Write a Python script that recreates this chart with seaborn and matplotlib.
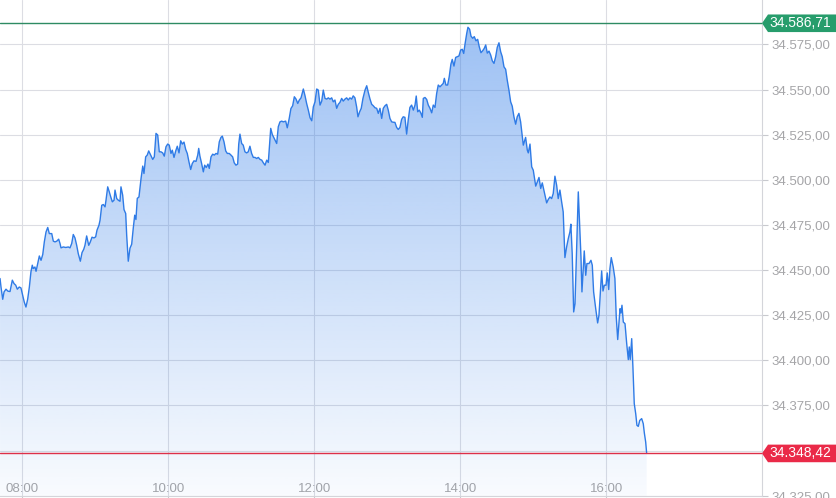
import numpy as np
import pandas as pd
import matplotlib
matplotlib.use("Agg")
import matplotlib.pyplot as plt
import matplotlib.transforms as mtransforms
from matplotlib.patches import Polygon
import seaborn as sns

# intraday index values, minutes after 08:00
minutes = [
    -18.3, -17.5, -16.1, -15.0, -13.4, -11.8, -10.1, -8.2, -6.8, -5.4,
    -4.1, -2.5, -1.1, 0.3, 1.6, 3.0, 4.4, 5.8, 7.1, 8.2,
    9.0, 10.4, 11.3, 12.7, 14.0, 15.4, 16.8, 18.1, 19.5, 20.9,
    22.2, 24.2, 25.5, 26.9, 28.3, 29.9, 31.0, 31.8, 33.7, 35.7,
    37.8, 39.2, 40.6, 41.9, 43.3, 44.7, 46.0, 47.7, 49.1, 50.5,
    51.5, 52.9, 54.6, 55.9, 57.3, 58.9, 60.3, 61.4, 63.0, 63.9,
    65.3, 66.6, 68.0, 68.8, 70.2, 71.5, 72.7, 74.0, 75.4, 76.2,
    77.6, 78.9, 80.3, 81.1, 82.5, 83.6, 85.0, 85.8, 87.1, 88.5,
    89.9, 91.2, 92.4, 93.4, 94.5, 95.9, 97.6, 99.0, 100.0, 101.4,
    102.7, 103.9, 105.5, 107.2, 108.5, 109.9, 111.3, 112.6, 114.0, 115.4,
    116.7, 118.1, 119.5, 120.8, 122.2, 123.3, 124.7, 126.1, 127.4, 128.8,
    130.2, 131.5, 132.9, 134.3, 135.6, 137.0, 138.4, 139.7, 141.1, 142.8,
    144.2, 145.0, 146.0, 147.4, 148.8, 149.9, 151.2, 152.6, 153.7, 155.1,
    156.5, 157.8, 159.2, 160.6, 161.9, 163.3, 164.4, 165.8, 167.2, 168.5,
    170.1, 171.5, 172.9, 174.2, 175.6, 177.0, 177.9, 178.9, 180.3, 181.6,
    183.0, 184.4, 185.7, 187.1, 188.5, 189.9, 191.3, 192.6, 194.0, 195.4,
    196.8, 198.1, 199.5, 200.9, 202.2, 204.2, 205.5, 207.1, 209.1, 210.4,
    211.8, 213.2, 214.5, 216.5, 217.8, 219.4, 220.8, 222.2, 223.6, 225.0,
    226.4, 227.7, 229.1, 231.0, 232.4, 233.7, 235.1, 236.5, 237.9, 239.2,
    240.6, 242.0, 243.3, 244.7, 246.1, 247.4, 248.8, 250.2, 251.5, 252.9,
    254.3, 255.6, 257.0, 258.4, 259.7, 261.1, 262.5, 263.8, 265.2, 266.6,
    267.9, 269.3, 270.7, 272.0, 273.4, 274.8, 275.9, 277.3, 278.6, 280.0,
    281.7, 283.1, 284.4, 285.8, 287.2, 288.5, 289.9, 291.3, 292.6, 294.0,
    295.4, 296.7, 298.1, 299.5, 300.8, 302.2, 303.6, 304.9, 306.3, 307.7,
    309.0, 310.4, 311.8, 313.1, 314.5, 315.9, 317.2, 318.6, 320.0, 321.4,
    322.8, 323.8, 325.0, 326.3, 327.7, 328.8, 329.6, 331.0, 332.4, 333.7,
    335.1, 336.5, 337.8, 339.2, 340.6, 341.9, 343.3, 344.7, 346.0, 346.9,
    348.2, 349.6, 350.9, 352.3, 353.4, 354.8, 356.2, 357.5, 358.9, 360.3,
    361.6, 362.8, 363.9, 365.3, 366.3, 367.7, 368.8, 370.2, 371.5, 372.9,
    374.3, 375.6, 377.0, 378.4, 379.7, 380.9, 382.2, 383.6, 385.0, 386.3,
    387.7, 389.1, 390.4, 391.8, 393.2, 394.5, 395.9, 397.3, 398.6, 400.0,
    401.4, 402.7, 404.1, 405.5, 406.8, 408.2, 409.6, 410.9, 411.8, 413.7,
    415.1, 415.9, 417.3, 418.7, 420.0, 422.0, 423.3, 424.7, 426.1, 427.4,
    429.0, 431.0, 432.3, 433.7, 435.1, 436.4, 437.8, 439.2, 440.5, 441.9,
    443.3, 444.6, 446.0, 447.4, 448.8, 450.1, 450.9, 452.0, 453.2, 454.3,
    455.7, 457.0, 458.4, 459.2, 460.0, 461.1, 461.9, 463.1, 464.1, 465.8,
    467.4, 468.5, 469.6, 471.3, 472.9, 474.0, 475.1, 476.2, 477.3, 478.4,
    479.8, 480.8, 482.0, 483.0, 484.1, 485.7, 487.1, 488.2, 489.4, 490.4,
    491.3, 492.1, 492.9, 494.0, 495.4, 496.8, 498.1, 498.9, 499.7, 500.9,
    501.9, 503.0, 504.2, 505.2, 506.3, 507.5, 509.1, 510.4, 511.3, 512.4,
    513.2,
]
prices = [
    34445.3, 34440.6, 34433.8, 34437.9, 34439.4, 34438.3, 34438.1, 34444.4, 34442.5, 34441.6,
    34439.4, 34440.6, 34440.1, 34436.0, 34432.3, 34429.5, 34433.8, 34440.6, 34449.0, 34452.7,
    34450.8, 34451.7, 34449.3, 34453.6, 34457.8, 34455.4, 34458.6, 34465.6, 34471.1, 34473.6,
    34470.2, 34470.2, 34466.0, 34465.6, 34466.0, 34467.1, 34464.7, 34462.3, 34462.8, 34462.5,
    34462.8, 34462.3, 34464.7, 34469.7, 34467.8, 34463.7, 34459.1, 34454.9, 34459.7, 34461.5,
    34463.7, 34468.9, 34463.7, 34465.6, 34468.2, 34467.8, 34468.4, 34472.1, 34474.8, 34477.6,
    34485.9, 34486.3, 34485.0, 34488.7, 34496.1, 34493.3, 34490.5, 34487.8, 34488.7, 34494.3,
    34489.6, 34488.7, 34488.1, 34496.1, 34491.5, 34483.5, 34481.3, 34469.3, 34454.9, 34462.1,
    34464.3, 34473.2, 34480.4, 34478.0, 34489.7, 34490.5, 34500.7, 34507.6, 34503.5, 34512.7,
    34513.7, 34516.0, 34513.7, 34511.3, 34512.7, 34525.7, 34524.8, 34515.5, 34515.5, 34514.9,
    34513.1, 34518.3, 34519.8, 34519.2, 34514.6, 34516.4, 34512.4, 34516.0, 34518.6, 34514.9,
    34521.6, 34519.8, 34520.9, 34516.8, 34514.6, 34509.9, 34505.7, 34509.0, 34510.5, 34510.2,
    34513.7, 34517.4, 34513.1, 34509.0, 34504.4, 34508.1, 34506.8, 34508.7, 34506.3, 34512.7,
    34514.2, 34513.7, 34514.6, 34514.2, 34521.0, 34523.5, 34524.2, 34521.0, 34516.0, 34514.6,
    34514.6, 34513.7, 34512.7, 34509.4, 34508.1, 34508.7, 34519.8, 34525.3, 34520.1, 34519.2,
    34515.5, 34514.9, 34515.5, 34518.6, 34514.6, 34512.4, 34512.4, 34511.8, 34512.4, 34511.3,
    34510.9, 34509.4, 34508.1, 34510.9, 34509.6, 34528.5, 34525.1, 34522.9, 34520.1, 34529.4,
    34532.1, 34532.5, 34532.1, 34532.5, 34528.8, 34534.0, 34539.5, 34541.0, 34546.0, 34544.7,
    34542.3, 34544.2, 34545.4, 34550.3, 34546.5, 34542.3, 34538.6, 34534.4, 34532.7, 34540.4,
    34543.2, 34550.3, 34549.7, 34541.4, 34543.6, 34549.7, 34545.1, 34544.7, 34545.4, 34544.7,
    34545.4, 34543.2, 34544.2, 34539.6, 34541.8, 34542.9, 34545.1, 34543.6, 34544.7, 34545.4,
    34544.2, 34545.4, 34544.7, 34546.5, 34545.4, 34540.4, 34534.9, 34537.7, 34539.6, 34545.1,
    34549.7, 34552.1, 34548.4, 34544.7, 34541.8, 34541.0, 34539.9, 34539.6, 34536.8, 34539.6,
    34534.0, 34539.6, 34541.0, 34541.8, 34538.6, 34534.0, 34532.1, 34531.9, 34531.8, 34529.0,
    34527.9, 34529.0, 34533.5, 34534.9, 34534.6, 34525.3, 34533.1, 34540.1, 34541.4, 34538.6,
    34541.4, 34546.4, 34537.7, 34538.6, 34536.8, 34534.6, 34545.1, 34545.6, 34544.5, 34541.4,
    34539.6, 34537.1, 34541.4, 34540.1, 34547.9, 34552.5, 34551.5, 34552.5, 34553.4, 34556.2,
    34552.5, 34552.5, 34557.1, 34564.1, 34566.7, 34563.0, 34567.8, 34568.2, 34568.6, 34571.9,
    34572.3, 34570.0, 34575.2, 34581.1, 34584.5, 34583.4, 34579.6, 34578.4, 34579.3, 34577.0,
    34577.8, 34573.7, 34570.4, 34571.5, 34572.8, 34574.7, 34570.2, 34571.3, 34569.1, 34565.9,
    34564.5, 34568.2, 34573.4, 34575.9, 34570.9, 34568.2, 34562.6, 34561.2, 34555.2, 34549.7,
    34543.2, 34540.8, 34534.9, 34530.8, 34534.9, 34536.8, 34532.1, 34524.7, 34519.2, 34523.5,
    34516.4, 34514.9, 34519.8, 34507.2, 34505.3, 34496.5, 34498.8, 34501.3, 34495.2, 34498.3,
    34493.3, 34487.2, 34489.1, 34490.5, 34489.6, 34492.4, 34502.0, 34497.0, 34489.6, 34494.3,
    34487.8, 34482.2, 34456.9, 34462.8, 34467.5, 34471.1, 34475.4, 34459.1, 34426.8, 34431.4,
    34462.8, 34493.3, 34470.2, 34457.3, 34437.9, 34451.7, 34460.6, 34447.1, 34453.6, 34453.6,
    34455.4, 34452.7, 34437.9, 34428.7, 34420.7, 34425.0, 34437.0, 34449.5, 34438.4, 34441.6,
    34441.6, 34448.4, 34439.2, 34450.8, 34456.9, 34451.7, 34445.3, 34424.0, 34411.5, 34420.3,
    34428.6, 34426.2, 34430.5, 34421.2, 34420.3, 34409.2, 34400.4, 34407.4, 34400.4, 34412.0,
    34396.3, 34376.0, 34370.4, 34364.0, 34363.4, 34366.7, 34367.7, 34364.9, 34359.7, 34354.7,
    34348.42,
]

day_high = 34586.71
last_price = 34348.42
tick_minutes = [0, 120, 240, 360, 480]
tick_labels = ["08:00", "10:00", "12:00", "14:00", "16:00"]
price_ticks = [34325, 34350, 34375, 34400, 34425, 34450, 34475, 34500, 34525, 34550, 34575]


def de_format(v):
    return f"{v:,.2f}".replace(",", "X").replace(".", ",").replace("X", ".")


df = pd.DataFrame({"minute": minutes, "price": prices})

sns.set_theme(style="white")
plt.rcParams["font.family"] = ["Liberation Sans", "DejaVu Sans"]

W, H = 836, 498
fig = plt.figure(figsize=(W / 100, H / 100), dpi=100)
ax = fig.add_axes([0, 2.3 / H, 762 / W, 495.7 / H])

xmin, xmax = -18.33, 608.0
ymin, ymax = 34325, 34599.6

# gradient area under the line
area = ax.fill_between(df["minute"], df["price"], ymin, facecolor="none", lw=0)
alpha = np.linspace(0.03, 0.47, 256)
rgba = np.zeros((256, 1, 4))
rgba[..., 0] = 47 / 255
rgba[..., 1] = 123 / 255
rgba[..., 2] = 232 / 255
rgba[:, 0, 3] = alpha
img = ax.imshow(rgba, extent=[xmin, xmax, ymin, max(prices)], origin="lower",
                aspect="auto", zorder=1, interpolation="bilinear")
img.set_clip_path(area.get_paths()[0], transform=ax.transData)

sns.lineplot(data=df, x="minute", y="price", color="#2f7be6", lw=1.0,
             estimator=None, sort=False, ax=ax, zorder=3)

ax.axhline(day_high, color="#2e8b63", lw=1.0, zorder=4)
ax.axhline(last_price, color="#dd2f48", lw=1.0, zorder=4)

ax.set_xlim(xmin, xmax)
ax.set_ylim(ymin, ymax)
ax.set_xlabel("")
ax.set_ylabel("")

ax.set_xticks(tick_minutes)
ax.set_xticklabels(tick_labels)
ax.set_yticks(price_ticks)
# the 34.350 label sits under the last-price tag
ax.set_yticklabels(["" if abs(p - last_price) < 8 else de_format(p) for p in price_ticks])
ax.yaxis.tick_right()

ax.grid(True, color="#dcdde3", lw=0.8, zorder=0)
ax.set_axisbelow(True)
for side in ["top", "left"]:
    ax.spines[side].set_visible(False)
for side in ["right", "bottom"]:
    ax.spines[side].set_color("#d4d5da")
    ax.spines[side].set_linewidth(0.8)

ax.tick_params(axis="y", right=True, length=4, width=0.8, color="#c8c9ce",
               labelsize=9.5, labelcolor="#a5a5a8", pad=3)
ax.tick_params(axis="x", bottom=True, length=2.5, width=0.8, color="#c8c9ce",
               labelsize=9.5, labelcolor="#a5a5a8", pad=-11.5)

# price tags on the right
trans = mtransforms.blended_transform_factory(fig.transFigure, ax.transData)
half = 8.8 * (ymax - ymin) / 495.7
for level, color in [(day_high, "#279d6c"), (last_price, "#ea2a48")]:
    x0, x1 = 762 / W, 768 / W
    tag = Polygon([(x0, level), (x1, level + half), (1.0, level + half),
                   (1.0, level - half), (x1, level - half)], closed=True,
                  transform=trans, facecolor=color, edgecolor="none", zorder=6)
    fig.add_artist(tag)
    fig.text(800 / W, level, de_format(level), transform=trans, color="white",
             fontsize=10, ha="center", va="center", zorder=7)

fig.savefig("out.png", dpi=100)
